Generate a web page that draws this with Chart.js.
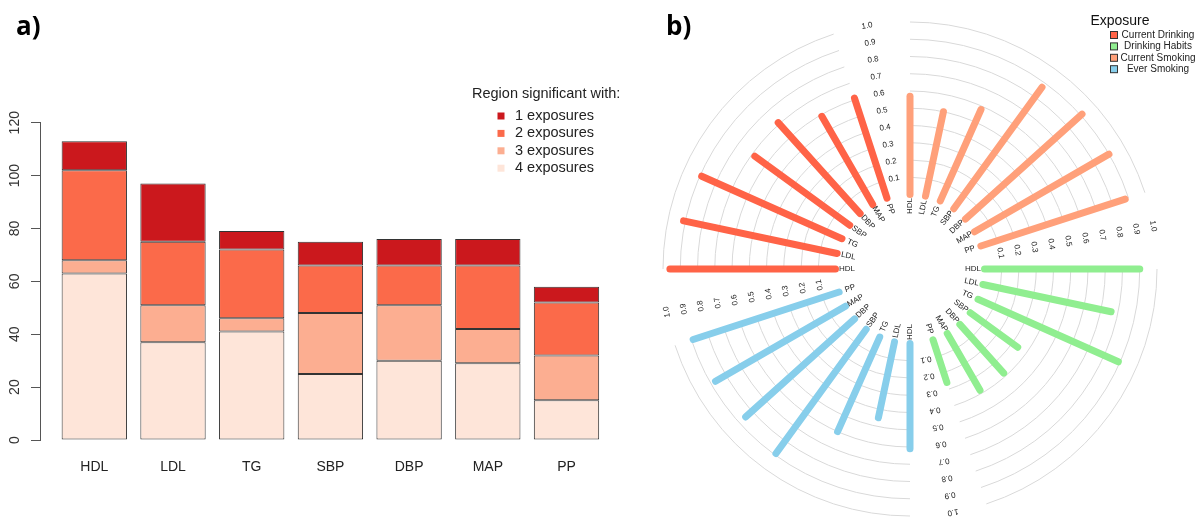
<!DOCTYPE html>
<html><head><meta charset="utf-8">
<script src="https://cdn.jsdelivr.net/npm/chart.js@4.4.1/dist/chart.umd.min.js"></script>
<style>
html,body{margin:0;padding:0;background:#fff;}
#wrap{position:relative;width:1197px;height:517px;overflow:hidden;background:#fff;}
canvas{position:absolute;top:0;}
#ca{left:0;width:640px;height:517px;}
#cb{left:640px;width:557px;height:517px;}
</style></head><body>
<div id="wrap"><canvas id="ca" width="640" height="517"></canvas><canvas id="cb" width="557" height="517"></canvas></div>
<script>
// ---------- data ----------
const categories = ['HDL', 'LDL', 'TG', 'SBP', 'DBP', 'MAP', 'PP'];
const panelLabels = ['a)', 'b)'];

// panel a: regions significant with n exposures (stack segments)
const exp4 = [63, 37, 41, 25, 30, 29, 15];
const exp3 = [5, 14, 5, 23, 21, 13, 17];
const exp2 = [34, 24, 26, 18, 15, 24, 20];
const exp1 = [11, 22, 7, 9, 10, 10, 6];
const stackLabels = ['4 exposures', '3 exposures', '2 exposures', '1 exposures'];
const yTicks = [0, 20, 40, 60, 80, 100, 120];
const legendTitleA = 'Region significant with:';

// panel b: circular bar plot
const exposures = ['Current Drinking', 'Drinking Habits', 'Current Smoking', 'Ever Smoking'];
const currentDrinking = [0.96, 0.91, 0.89, 0.68, 0.71, 0.59, 0.61];
const drinkingHabits  = [0.90, 0.76, 0.89, 0.34, 0.38, 0.38, 0.26];
const currentSmoking  = [0.57, 0.50, 0.58, 0.87, 0.91, 0.90, 0.88];
const everSmoking     = [0.61, 0.45, 0.60, 0.89, 0.85, 0.87, 0.89];
const radialTicks = [0.1, 0.2, 0.3, 0.4, 0.5, 0.6, 0.7, 0.8, 0.9, 1.0];
const radialTickLabels = ['0.1', '0.2', '0.3', '0.4', '0.5', '0.6', '0.7', '0.8', '0.9', '1.0'];
const legendTitleB = 'Exposure';

// ---------- styles / layout ----------
const FONT = "'Liberation Sans', Arial, Helvetica, sans-serif";
const stackColors = ['#FEE5D9', '#FCAE91', '#FB6A4A', '#CB181D'];
const exposureColors = ['#FF6347', '#90EE90', '#FFA07A', '#87CEEB'];
const groupStart = [270, 90, 0, 180];        // degrees clockwise from top
const groupInward = [true, false, false, true];
const STEP = 12, SPAN = 72, LABEL_OFF = 80;
const PX = 172.5;                 // pixels per unit value
const R0 = 74.5 / PX;             // inner radius (value 0)
const RLAB = 63 / PX;             // category label radius
const D = Math.PI / 180;

// ---------- panel a ----------
const seriesA = [exp4, exp3, exp2, exp1];
const legendA = {
  id: 'legendA',
  afterDraw(chart) {
    const ctx = chart.ctx;
    ctx.save();
    ctx.fillStyle = '#000';
    ctx.font = "bold 26px 'Open Sans', sans-serif";
    ctx.textAlign = 'left'; ctx.textBaseline = 'alphabetic';
    ctx.fillText(panelLabels[0], 16, 35);
    ctx.font = '14.5px ' + FONT;
    ctx.fillStyle = '#222';
    ctx.textBaseline = 'middle';
    ctx.fillText(legendTitleA, 472, 94);
    const ds = chart.data.datasets.slice().reverse();
    ds.forEach((d, k) => {
      const y = 116 + k * 17.4;
      ctx.fillStyle = d.backgroundColor;
      ctx.fillRect(497.5, y - 3.5, 7, 7);
      ctx.fillStyle = '#222';
      ctx.fillText(d.label, 515, y);
    });
    ctx.restore();
  }
};

new Chart(document.getElementById('ca'), {
  type: 'bar',
  data: {
    datasets: seriesA.map((s, k) => ({
      label: stackLabels[k],
      data: s.map((v, i) => ({ x: i, y: v })),
      backgroundColor: stackColors[k],
      borderColor: '#333',
      borderWidth: 1,
      borderSkipped: false,
      barPercentage: 0.83,
      categoryPercentage: 1
    }))
  },
  options: {
    responsive: false,
    animation: false,
    events: [],
    layout: { padding: { left: 0, top: 122.7, right: 19.2, bottom: 0 } },
    plugins: { legend: { display: false }, tooltip: { enabled: false } },
    scales: {
      x: {
        type: 'linear', stacked: true, offset: false, min: -0.69, max: 6.69,
        afterBuildTicks: s => { s.ticks = categories.map((c, i) => ({ value: i })); },
        afterFit: s => { s.height = 77; },
        ticks: { callback: v => categories[v], font: { family: FONT, size: 14 }, color: '#222', padding: 11, autoSkip: false, maxRotation: 0 },
        grid: { display: false },
        border: { display: false }
      },
      y: {
        stacked: true, min: 0, max: 120,
        afterBuildTicks: s => { s.ticks = yTicks.map(v => ({ value: v })); },
        afterFit: s => { s.width = 40; },
        ticks: { minRotation: 90, maxRotation: 90, crossAlign: 'center', padding: 4, font: { family: FONT, size: 14 }, color: '#333' },
        grid: { drawOnChartArea: false, tickLength: 9, color: '#555', tickWidth: 1 },
        border: { color: '#555', width: 1 }
      }
    }
  },
  plugins: [legendA]
});

// ---------- panel b ----------
const seriesB = [currentDrinking, drinkingHabits, currentSmoking, everSmoking];
const pt = (r, th) => ({ x: r * Math.sin(th * D), y: r * Math.cos(th * D) });
const datasetsB = [];
seriesB.forEach((s, g) => {
  s.forEach((v, i) => {
    const th = groupStart[g] + STEP * i;
    datasetsB.push({
      label: exposures[g] + ' ' + categories[i],
      data: [pt(R0, th), pt(R0 + v, th)],
      borderColor: exposureColors[g],
      borderWidth: 7,
      borderCapStyle: 'round',
      pointRadius: 0,
      showLine: true,
      fill: false
    });
  });
});

const polarDecor = {
  id: 'polarDecor',
  beforeDatasetsDraw(chart) {
    const { ctx, scales: { x, y } } = chart;
    const cx = x.getPixelForValue(0), cy = y.getPixelForValue(0);
    ctx.save();
    ctx.strokeStyle = '#d9d9d9';
    ctx.lineWidth = 1;
    groupStart.forEach(s => {
      radialTicks.forEach(v => {
        const r = x.getPixelForValue(R0 + v) - cx;
        ctx.beginPath();
        ctx.arc(cx, cy, r, (s - 90) * D, (s + SPAN - 90) * D);
        ctx.stroke();
      });
    });
    ctx.restore();
  },
  afterDatasetsDraw(chart) {
    const { ctx, scales: { x, y } } = chart;
    ctx.save();
    ctx.textAlign = 'center';
    ctx.textBaseline = 'middle';
    ctx.font = '8px ' + FONT;
    ctx.fillStyle = '#222';
    groupStart.forEach((s, g) => {
      categories.forEach((c, i) => {
        const th = s + STEP * i;
        const p = pt(RLAB, th);
        ctx.save();
        ctx.translate(x.getPixelForValue(p.x), y.getPixelForValue(p.y));
        ctx.rotate((groupInward[g] ? th + 90 : th - 90) * D);
        ctx.fillText(c, 0, 0);
        ctx.restore();
      });
      const tl = s + LABEL_OFF;
      radialTicks.forEach((v, k) => {
        const p = pt(R0 + v, tl);
        ctx.save();
        ctx.translate(x.getPixelForValue(p.x), y.getPixelForValue(p.y));
        ctx.rotate(tl * D);
        ctx.fillText(radialTickLabels[k], 0, 0);
        ctx.restore();
      });
    });
    ctx.restore();
  },
  afterDraw(chart) {
    const ctx = chart.ctx;
    ctx.save();
    ctx.fillStyle = '#000';
    ctx.font = "bold 26px 'Open Sans', sans-serif";
    ctx.textAlign = 'left'; ctx.textBaseline = 'alphabetic';
    ctx.fillText(panelLabels[1], 26, 35);
    ctx.textAlign = 'center'; ctx.textBaseline = 'middle';
    ctx.font = '14px ' + FONT;
    ctx.fillStyle = '#111';
    ctx.fillText(legendTitleB, 480, 21);
    ctx.font = '10px ' + FONT;
    exposures.forEach((e, k) => {
      const yy = 35 + k * 11.4;
      ctx.fillStyle = exposureColors[k];
      ctx.fillRect(470.5, yy - 3.5, 7, 7);
      ctx.strokeStyle = '#333';
      ctx.lineWidth = 1;
      ctx.strokeRect(470.5, yy - 3.5, 7, 7);
      ctx.fillStyle = '#222';
      ctx.fillText(e, 518, yy);
    });
    ctx.restore();
  }
};

new Chart(document.getElementById('cb'), {
  type: 'scatter',
  data: { datasets: datasetsB },
  options: {
    responsive: false,
    animation: false,
    events: [],
    layout: { padding: 0 },
    plugins: { legend: { display: false }, tooltip: { enabled: false } },
    scales: {
      x: { type: 'linear', display: false, min: -270 / PX, max: (557 - 270) / PX },
      y: { type: 'linear', display: false, min: -(517 - 269) / PX, max: 269 / PX }
    }
  },
  plugins: [polarDecor]
});
</script>
</body></html>
